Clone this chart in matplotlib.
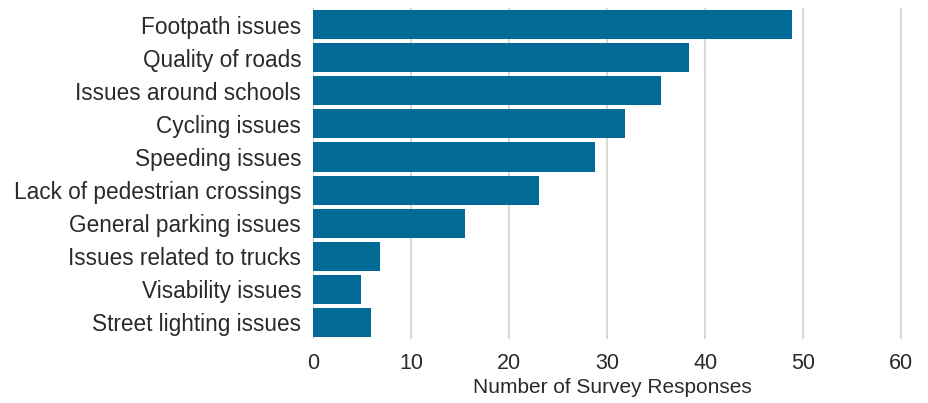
import matplotlib
matplotlib.use("Agg")
import matplotlib.pyplot as plt

# survey data, top to bottom
categories = [
    "Footpath issues",
    "Quality of roads",
    "Issues around schools",
    "Cycling issues",
    "Speeding issues",
    "Lack of pedestrian crossings",
    "General parking issues",
    "Issues related to trucks",
    "Visability issues",
    "Street lighting issues",
]
responses = [48.9, 38.4, 35.5, 31.8, 28.8, 23.1, 15.5, 6.8, 4.9, 5.9]
xticks = [0, 10, 20, 30, 40, 50, 60]

plt.rcParams['font.family'] = ['Liberation Sans', 'DejaVu Sans']

fig = plt.figure(figsize=(9.29, 4.03), dpi=100)
ax = fig.add_axes([0.3369, 0.1588, 0.6437, 0.8212])

pos = list(range(len(categories)))
ax.barh(pos, responses, height=0.88, color="#016a96", zorder=3)
ax.set_yticks(pos)
ax.set_yticklabels(categories, fontsize=16.3, color="#2a2a2a")
ax.set_ylim(len(categories) - 0.5, -0.5)
ax.set_xlim(0, 61)
ax.set_xticks(xticks)
ax.set_xticklabels([str(t) for t in xticks], fontsize=15.5, color="#2a2a2a")
ax.set_xlabel("Number of Survey Responses", fontsize=15, color="#2a2a2a", labelpad=3)

ax.grid(axis="x", color="#d8d8d4", linewidth=1.5, zorder=0)
for s in ax.spines.values():
    s.set_visible(False)
ax.tick_params(axis="both", length=0)
ax.tick_params(axis="y", pad=8.5)
ax.tick_params(axis="x", pad=10)

fig.savefig("out.png", dpi=100)
